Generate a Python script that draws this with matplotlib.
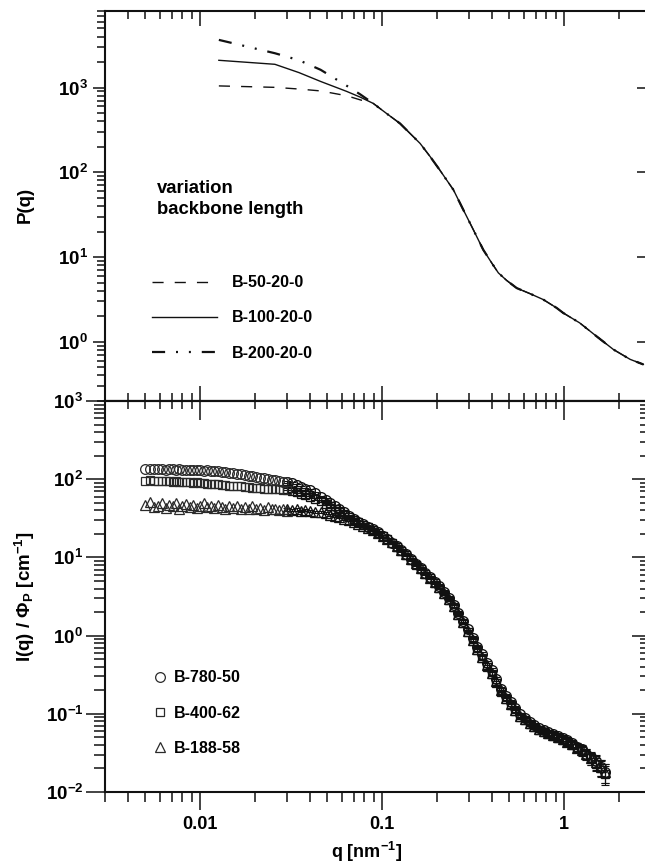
import numpy as np
import matplotlib
matplotlib.use("Agg")
import matplotlib.pyplot as plt
from matplotlib.ticker import FuncFormatter, NullFormatter, LogLocator

plt.rcParams['font.family'] = ['Liberation Sans', 'DejaVu Sans']
plt.rcParams['font.weight'] = 'bold'
plt.rcParams['mathtext.fontset'] = 'custom'
plt.rcParams['mathtext.rm'] = 'Liberation Sans:bold'
plt.rcParams['mathtext.bf'] = 'Liberation Sans:bold'
plt.rcParams['mathtext.it'] = 'Liberation Sans:bold:italic'
plt.rcParams['mathtext.default'] = 'bf'

# ---------------- upper panel: model form factors P(q) ----------------
q_model_low = [0.0127, 0.0258, 0.035, 0.046, 0.064, 0.076]
p_b50_low = [1045, 1005, 960, 912, 800, 715]
p_b100_low = [2096, 1880, 1500, 1180, 900, 770]
p_b200_low = [3650, 2540, 2100, 1620, 1050, 830]

q_model = [0.0896, 0.106, 0.1256, 0.162, 0.184, 0.208, 0.247, 0.280, 0.318,
           0.360, 0.401, 0.436, 0.484, 0.550, 0.650, 0.769, 0.911, 0.99, 1.22,
           1.51, 1.87, 2.31, 2.73]
p_model = [649, 494, 377, 219, 153, 106, 62, 36, 20.9,
           12.2, 8.5, 6.5, 5.3, 4.3, 3.70, 3.15, 2.51, 2.19, 1.67,
           1.16, 0.81, 0.62, 0.54]

model_labels = ['B-50-20-0', 'B-100-20-0', 'B-200-20-0']

# ---------------- lower panel: measured intensities ----------------
sample_labels = ['B-780-50', 'B-400-62', 'B-188-58']

# low-q detector setting
q_low = [0.0050, 0.0053, 0.0056, 0.0059, 0.0062, 0.0065, 0.0068, 0.0071,
         0.0074, 0.0077, 0.0080, 0.0084, 0.0088, 0.0092, 0.0096, 0.0100,
         0.0105, 0.0110, 0.0115, 0.0120, 0.0126, 0.0132, 0.0138, 0.0145,
         0.0152, 0.0160, 0.0168, 0.0176, 0.0185, 0.0194, 0.0204, 0.0214,
         0.0225, 0.0236, 0.0248, 0.0260, 0.0273, 0.0287, 0.0300]
i780_low = [135, 134, 136, 134, 135, 133, 135, 134, 133, 134, 132, 133, 131,
            132, 130, 131, 129, 130, 128, 127, 126, 124, 123, 121, 119, 117,
            115, 113, 111, 109, 107, 105, 103, 101, 99, 97, 95, 93, 91]
i400_low = [96, 97, 95, 96, 94, 95, 94, 93, 94, 92, 93, 91, 92, 90, 91, 89,
            89, 88, 87, 87, 86, 85, 84, 83, 82.5, 82, 81, 80, 79, 78, 77.5,
            77, 76, 75.5, 75, 74.5, 74, 73.5, 73]
i188_low = [47, 51, 44, 46, 49, 43, 47, 45, 50, 42, 46, 48, 44, 47, 43, 46,
            49, 44, 45, 43, 47, 44, 42, 46, 43, 45, 41, 44, 42, 45, 41, 43,
            40, 44, 41, 42, 40, 41, 39]

# high-q detector setting
q_high = [0.030, 0.032, 0.034, 0.036, 0.038, 0.040, 0.043, 0.046, 0.049,
          0.052, 0.055, 0.058, 0.062, 0.066, 0.070, 0.074, 0.079, 0.084,
          0.089, 0.095, 0.101, 0.107, 0.114, 0.121, 0.128, 0.136, 0.145,
          0.154, 0.163, 0.173, 0.184, 0.195, 0.207, 0.220, 0.234, 0.248,
          0.263, 0.279, 0.296, 0.315, 0.334, 0.355, 0.377, 0.400, 0.425,
          0.451, 0.479, 0.509, 0.540, 0.574, 0.609, 0.647, 0.687, 0.729,
          0.774, 0.822, 0.873, 0.927, 0.984, 1.045, 1.110, 1.178, 1.251,
          1.328, 1.410, 1.497, 1.590, 1.690]
i780_high = [93, 89, 85, 80, 76, 72, 66, 60, 55, 50, 46, 42, 38, 34, 31,
             28.5, 26.5, 24.5, 22.8, 21.0, 19.0, 17.3, 15.5, 13.8, 12.3,
             10.9, 9.5, 8.3, 7.3, 6.4, 5.6, 4.9, 4.25, 3.6, 3.0, 2.45, 1.95,
             1.55, 1.2, 0.92, 0.72, 0.58, 0.45, 0.36, 0.28, 0.21, 0.17,
             0.14, 0.118, 0.098, 0.088, 0.079, 0.072, 0.066, 0.062, 0.058,
             0.055, 0.052, 0.049, 0.046, 0.042, 0.038, 0.035, 0.031, 0.028,
             0.025, 0.021, 0.018]
i400_high = [74, 71, 68, 65, 62, 60, 56, 52, 48, 45, 42, 39, 36, 33, 30,
             28, 26, 24.2, 22.5, 20.6, 18.8, 17.0, 15.2, 13.6, 12.1, 10.6,
             9.3, 8.1, 7.1, 6.2, 5.4, 4.7, 4.1, 3.45, 2.85, 2.35, 1.85, 1.45,
             1.12, 0.86, 0.66, 0.52, 0.40, 0.32, 0.25, 0.19, 0.155, 0.128,
             0.108, 0.092, 0.083, 0.075, 0.068, 0.062, 0.058, 0.055, 0.052,
             0.049, 0.046, 0.043, 0.040, 0.037, 0.033, 0.030, 0.027, 0.023,
             0.020, 0.017]
i188_high = [41, 40, 41, 39, 40, 39, 38, 38, 37, 35, 34, 33, 31, 30, 28.5,
             27, 25.5, 24, 22.3, 20.8, 18.9, 17.4, 15.6, 14.0, 12.5, 11.0,
             9.6, 8.4, 7.3, 6.4, 5.5, 4.8, 4.2, 3.55, 2.95, 2.4, 1.9, 1.5,
             1.15, 0.88, 0.68, 0.54, 0.42, 0.33, 0.26, 0.20, 0.16, 0.132,
             0.111, 0.094, 0.085, 0.077, 0.070, 0.064, 0.060, 0.056, 0.053,
             0.050, 0.047, 0.044, 0.041, 0.037, 0.034, 0.031, 0.027, 0.024,
             0.021, 0.018]
rel_err_high = [0.03, 0.03, 0.03, 0.03, 0.03, 0.03, 0.03, 0.03, 0.03, 0.03,
                0.03, 0.03, 0.03, 0.03, 0.03, 0.03, 0.03, 0.03, 0.03, 0.03,
                0.03, 0.03, 0.03, 0.03, 0.03, 0.03, 0.03, 0.03, 0.03, 0.03,
                0.03, 0.03, 0.04, 0.04, 0.04, 0.04, 0.04, 0.04, 0.04, 0.06,
                0.06, 0.06, 0.06, 0.06, 0.06, 0.06, 0.06, 0.06, 0.06, 0.06,
                0.06, 0.06, 0.06, 0.06, 0.06, 0.08, 0.08, 0.09, 0.09, 0.10,
                0.10, 0.11, 0.13, 0.15, 0.17, 0.20, 0.23, 0.28]

# ---------------- figure layout (pixel boxes) ----------------
W, H = 645, 865
fig = plt.figure(figsize=(W / 100, H / 100), dpi=100)


def box(x0, y0, x1, y1):
    return fig.add_axes([x0 / W, 1 - y1 / H, (x1 - x0) / W, (y1 - y0) / H])


ax1 = box(104.8, 11, 650.8, 401)
ax2 = box(104.8, 401, 650.8, 792)

ink = '#111111'
exp_fmt = FuncFormatter(lambda v, pos: r'$\mathbf{10^{%d}}$' % int(round(np.log10(v))))

for ax in (ax1, ax2):
    ax.set_xscale('log')
    ax.set_yscale('log')
    ax.set_xlim(0.003, 3)
    for s in ax.spines.values():
        s.set_linewidth(1.5)
        s.set_color(ink)
    ax.yaxis.set_major_formatter(exp_fmt)
    ax.yaxis.set_minor_formatter(NullFormatter())
    ax.xaxis.set_minor_formatter(NullFormatter())
    ax.yaxis.set_minor_locator(LogLocator(base=10, subs=np.arange(2, 10)))
    ax.xaxis.set_minor_locator(LogLocator(base=10, subs=np.arange(2, 10)))
    ax.tick_params(which='both', width=1.1, color=ink)
    ax.tick_params(axis='y', labelsize=13.5)
    ax.tick_params(axis='x', labelsize=13)

ax1.set_ylim(0.2, 8000)
ax2.set_ylim(0.01, 1000)

# upper panel ticks
ax1.tick_params(axis='x', which='both', direction='in', top=True, bottom=True,
                labelbottom=False)
ax1.tick_params(axis='x', which='major', length=11)
ax1.tick_params(axis='x', which='minor', length=6)
ax1.tick_params(axis='y', which='both', direction='out', left=True, right=False)
ax1.tick_params(axis='y', which='major', length=9, pad=3)
ax1.tick_params(axis='y', which='minor', length=6)
r1 = ax1.secondary_yaxis('right')
r1.tick_params(which='both', direction='in', width=1.1, color=ink, labelright=False)
r1.tick_params(which='major', length=10)
r1.tick_params(which='minor', length=4)
r1.spines['right'].set_linewidth(1.5)

# lower panel ticks
ax2.tick_params(axis='x', which='both', direction='out', top=False, bottom=True)
ax2.tick_params(axis='x', which='major', length=13, pad=4)
ax2.tick_params(axis='x', which='minor', length=7)
ax2.xaxis.set_major_formatter(FuncFormatter(lambda v, pos: '%g' % v))
ax2.tick_params(axis='y', which='both', direction='out', left=True, right=False)
ax2.tick_params(axis='y', which='major', length=14, pad=1.5)
ax2.tick_params(axis='y', which='minor', length=8)
t2 = ax2.secondary_xaxis('top')
t2.tick_params(which='both', direction='in', width=1.1, color=ink, labeltop=False)
t2.tick_params(which='major', length=14)
t2.tick_params(which='minor', length=6)
t2.spines['top'].set_linewidth(1.5)
r2 = ax2.secondary_yaxis('right')
r2.tick_params(which='both', direction='in', width=1.1, color=ink, labelright=False)
r2.tick_params(which='major', length=14)
r2.tick_params(which='minor', length=8)
r2.spines['right'].set_linewidth(1.5)

# ---------------- upper panel curves ----------------
l50, = ax1.plot(q_model_low + q_model, p_b50_low + p_model, color=ink, lw=1.0,
                linestyle=(0, (8, 8)), label=model_labels[0])
l100, = ax1.plot(q_model_low + q_model, p_b100_low + p_model, color=ink, lw=1.0,
                 linestyle='-', label=model_labels[1])
l200, = ax1.plot(q_model_low + q_model, p_b200_low + p_model, color=ink, lw=1.6,
                 linestyle=(0, (5.9, 4.9, 0.9, 4.9, 0.9, 4.9)), label=model_labels[2])

ax1.legend(handles=[l50, l100, l200], loc='center left',
           bbox_to_anchor=(152 / W, 1 - 318 / H), bbox_transform=fig.transFigure,
           frameon=False, fontsize=11.5, handlelength=4.1, handletextpad=0.9,
           labelspacing=1.27, borderpad=0, borderaxespad=0)

fig.text(157 / W, 1 - 193 / H, 'variation', fontsize=13.3, fontweight='bold',
         va='baseline', ha='left')
fig.text(157 / W, 1 - 214 / H, 'backbone length', fontsize=13.3, fontweight='bold',
         va='baseline', ha='left')

# ---------------- lower panel data ----------------
styles = [('o', 7.0), ('s', 6.3), ('^', 7.0)]
low_sets = [i780_low, i400_low, i188_low]
high_sets = [i780_high, i400_high, i188_high]
handles = []
for (mk, ms), lab, ilo, ihi in zip(styles, sample_labels, low_sets, high_sets):
    ihi = np.asarray(ihi)
    err = ihi * np.asarray(rel_err_high)
    ax2.errorbar(q_high, ihi, yerr=err, fmt='none', ecolor=ink, elinewidth=0.8,
                 capsize=2.8, capthick=0.8, zorder=2)
    ax2.plot(q_high, ihi, linestyle='none', marker=mk, ms=ms, mfc='none',
             mec=ink, mew=0.95, zorder=3)
    h, = ax2.plot(q_low, ilo, linestyle='none', marker=mk, ms=ms, mfc='none',
                  mec='#2a2a2a', mew=0.9, zorder=3, label=lab)
    handles.append(h)

ax2.legend(handles=handles, loc='center left',
           bbox_to_anchor=(153.6 / W, 1 - 713 / H), bbox_transform=fig.transFigure,
           frameon=False, fontsize=11.5, handlelength=0.8, handletextpad=0.45,
           labelspacing=1.27, borderpad=0, borderaxespad=0, numpoints=1)

# ---------------- axis titles ----------------
fig.text(25 / W, 1 - 205 / H, 'P(q)', rotation=90, ha='center', va='center',
         fontsize=13.5, fontweight='bold')
fig.text(25 / W, 1 - 597 / H, r'I(q) / $\Phi_P$ [cm$^{-1}$]', rotation=90,
         ha='center', va='center', fontsize=13.5, fontweight='bold')
fig.text(367 / W, 1 - 852 / H, r'q [nm$^{-1}$]', ha='center', va='center',
         fontsize=13, fontweight='bold')

fig.savefig('out.png', dpi=100)
